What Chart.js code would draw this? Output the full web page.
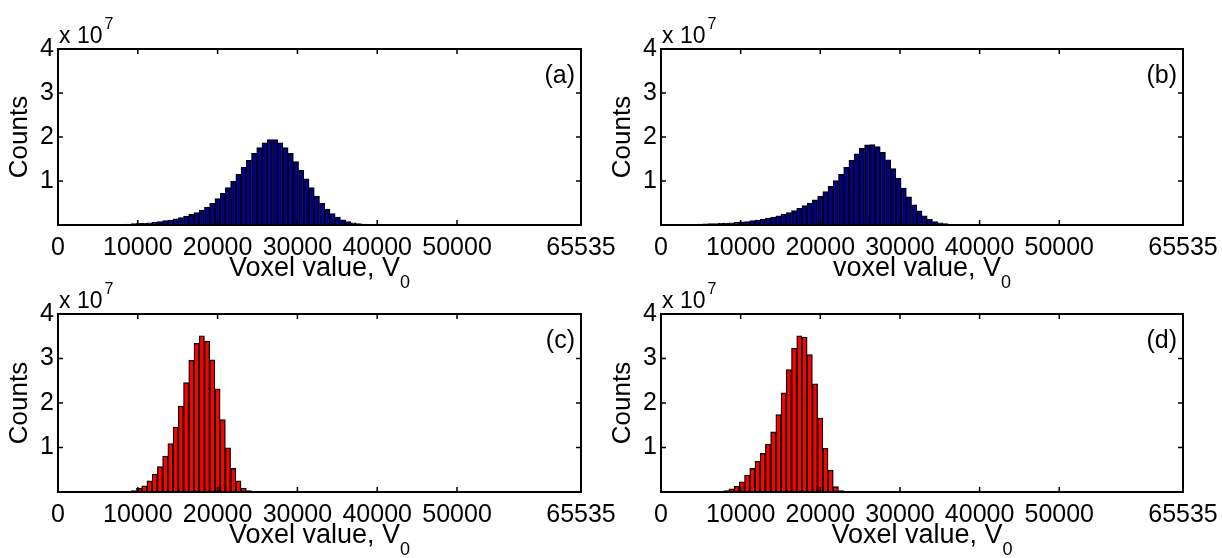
<!DOCTYPE html>
<html>
<head>
<meta charset="utf-8">
<script src="https://cdn.jsdelivr.net/npm/chart.js"></script>
<style>
  body { margin: 0; background: #fff; width: 1222px; height: 558px; position: relative; overflow: hidden; }
  canvas { position: absolute; }
</style>
</head>
<body>
<canvas id="panel-a" width="630" height="295" style="left:0px;top:0px"></canvas>
<canvas id="panel-b" width="619" height="295" style="left:603px;top:0px"></canvas>
<canvas id="panel-c" width="630" height="293" style="left:0px;top:265px"></canvas>
<canvas id="panel-d" width="619" height="293" style="left:603px;top:265px"></canvas>
<script>
// Histogram settings: 100 bins over the 16-bit range
const BIN_COUNT = 100;
const BIN_WIDTH = 65535 / BIN_COUNT;

// Tick values
const xTickValues = [0, 10000, 20000, 30000, 40000, 50000, 65535];
const yTickValues = [1, 2, 3, 4];
const innerXTicks = [10000, 20000, 30000, 40000, 50000];
const innerYTicks = [1, 2, 3];

// Counts per bin, in units of 10^7 (first non-empty bin index given separately)
const firstBinA = 6;
const countsA = [0.003, 0.004, 0.006, 0.008, 0.01, 0.013, 0.017, 0.022,
    0.03, 0.04, 0.04, 0.05, 0.06, 0.08, 0.10, 0.11, 0.14, 0.17, 0.20, 0.24,
    0.28, 0.34, 0.41, 0.49, 0.60, 0.72, 0.85, 1.00, 1.15, 1.31, 1.47, 1.63,
    1.76, 1.87, 1.94, 1.94, 1.87, 1.76, 1.63, 1.44, 1.25, 1.05, 0.85, 0.66,
    0.50, 0.36, 0.26, 0.18, 0.12, 0.08, 0.05, 0.03, 0.02, 0.01, 0.005];

const firstBinB = 5;
const countsB = [0.01, 0.015, 0.02, 0.025, 0.03, 0.035,
    0.04, 0.045, 0.05, 0.06, 0.07, 0.08, 0.10, 0.11, 0.13, 0.155, 0.18, 0.21,
    0.25, 0.28, 0.33, 0.38, 0.44, 0.50, 0.57, 0.66, 0.76, 0.88, 1.01, 1.15,
    1.31, 1.47, 1.62, 1.74, 1.82, 1.83, 1.78, 1.65, 1.48, 1.28, 1.06, 0.84,
    0.64, 0.46, 0.32, 0.21, 0.13, 0.08, 0.05, 0.03, 0.015, 0.008, 0.004];

const firstBinC = 12;
const countsC = [0.005, 0.01, 0.03, 0.08, 0.14, 0.25, 0.40, 0.57, 0.81, 1.09,
    1.46, 1.93, 2.46, 2.96, 3.34, 3.51, 3.39, 2.97, 2.32, 1.63, 0.99, 0.53,
    0.25, 0.09, 0.03];

const firstBinD = 10;
const countsD = [0.005, 0.01, 0.03, 0.07, 0.13, 0.23, 0.38, 0.53, 0.69, 0.87,
    1.07, 1.35, 1.74, 2.23, 2.75, 3.23, 3.51, 3.48, 3.09, 2.43, 1.66, 0.98,
    0.49, 0.12, 0.03];

const BLUE = '#00008c';
const RED = '#ff0000';
const FONT = "'Liberation Sans', Arial, sans-serif";

Chart.defaults.font.family = FONT;
Chart.defaults.color = '#000';

// Box, inner tick marks, exponent, panel tag and x label with subscript
const framePlugin = {
    id: 'frame',
    afterDraw(chart, args, opts) {
        const ctx = chart.ctx;
        const a = chart.chartArea;
        const x = chart.scales.x;
        const y = chart.scales.y;
        ctx.save();
        ctx.strokeStyle = '#000';
        ctx.lineWidth = 1.5;
        ctx.beginPath();
        innerXTicks.forEach(v => {
            const px = x.getPixelForValue(v);
            ctx.moveTo(px, a.bottom); ctx.lineTo(px, a.bottom - 5);
            ctx.moveTo(px, a.top); ctx.lineTo(px, a.top + 5);
        });
        innerYTicks.forEach(v => {
            const py = y.getPixelForValue(v);
            ctx.moveTo(a.left, py); ctx.lineTo(a.left + 5, py);
            ctx.moveTo(a.right, py); ctx.lineTo(a.right - 5, py);
        });
        ctx.stroke();
        ctx.lineWidth = 2;
        ctx.strokeRect(a.left, a.top, a.right - a.left, a.bottom - a.top);

        ctx.fillStyle = '#000';
        ctx.textAlign = 'left';
        ctx.textBaseline = 'alphabetic';
        ctx.font = '23px ' + FONT;
        ctx.fillText('x 10', a.left + 1, a.top - 6);
        const ew = ctx.measureText('x 10').width;
        ctx.font = '16px ' + FONT;
        ctx.fillText('7', a.left + 3 + ew, a.top - 20);

        ctx.font = '25px ' + FONT;
        ctx.textAlign = 'right';
        ctx.textBaseline = 'middle';
        ctx.fillText(opts.tag, a.right - 6, a.top + 27);

        ctx.textAlign = 'left';
        ctx.textBaseline = 'alphabetic';
        ctx.font = '27px ' + FONT;
        const mw = ctx.measureText(opts.xTitle).width;
        ctx.font = '18px ' + FONT;
        const sw = ctx.measureText('0').width;
        const sx = (a.left + a.right) / 2 - (mw + sw) / 2;
        ctx.font = '27px ' + FONT;
        ctx.fillText(opts.xTitle, sx, a.bottom + 51);
        ctx.font = '18px ' + FONT;
        ctx.fillText('0', sx + mw, a.bottom + 63);
        ctx.restore();
    }
};

function makePanel(canvasId, firstBin, counts, color, tag, xTitle, xAxisHeight, rightPad) {
    const points = counts.map((c, i) => ({ x: (firstBin + i + 0.5) * BIN_WIDTH, y: c }));
    return new Chart(document.getElementById(canvasId), {
        type: 'bar',
        data: {
            datasets: [{
                data: points,
                backgroundColor: color,
                borderColor: '#000',
                borderWidth: 1.3,
                borderSkipped: false,
                barPercentage: 1,
                categoryPercentage: 1
            }]
        },
        options: {
            responsive: false,
            animation: false,
            events: [],
            layout: { padding: { top: 49, right: rightPad, left: 0, bottom: 0 } },
            plugins: {
                legend: { display: false },
                tooltip: { enabled: false },
                frame: { tag: tag, xTitle: xTitle }
            },
            scales: {
                x: {
                    type: 'linear',
                    min: 0,
                    max: 65535,
                    offset: false,
                    grid: { display: false, drawTicks: false, offset: false },
                    border: { display: false },
                    afterBuildTicks: s => { s.ticks = xTickValues.map(v => ({ value: v })); },
                    afterFit: s => { s.height = xAxisHeight; s.paddingLeft = 0; s.paddingRight = 0; },
                    ticks: {
                        autoSkip: false,
                        maxRotation: 0,
                        minRotation: 0,
                        padding: 8,
                        font: { size: 25 },
                        callback: v => String(v)
                    }
                },
                y: {
                    min: 0,
                    max: 4,
                    grid: { display: false, drawTicks: false },
                    border: { display: false },
                    afterBuildTicks: s => { s.ticks = yTickValues.map(v => ({ value: v })); },
                    afterFit: s => { s.width = 58; s.paddingTop = 0; s.paddingBottom = 0; },
                    ticks: {
                        padding: 4,
                        font: { size: 25 },
                        callback: v => String(v)
                    },
                    title: {
                        display: true,
                        text: 'Counts',
                        font: { size: 26 },
                        padding: { top: 4, bottom: 0 }
                    }
                }
            }
        },
        plugins: [framePlugin]
    });
}

makePanel('panel-a', firstBinA, countsA, BLUE, '(a)', 'Voxel value, V', 70, 49);
makePanel('panel-b', firstBinB, countsB, BLUE, '(b)', 'voxel value, V', 70, 39);
makePanel('panel-c', firstBinC, countsC, RED, '(c)', 'Voxel value, V', 66, 49);
makePanel('panel-d', firstBinD, countsD, RED, '(d)', 'Voxel value, V', 66, 39);
</script>
</body>
</html>
